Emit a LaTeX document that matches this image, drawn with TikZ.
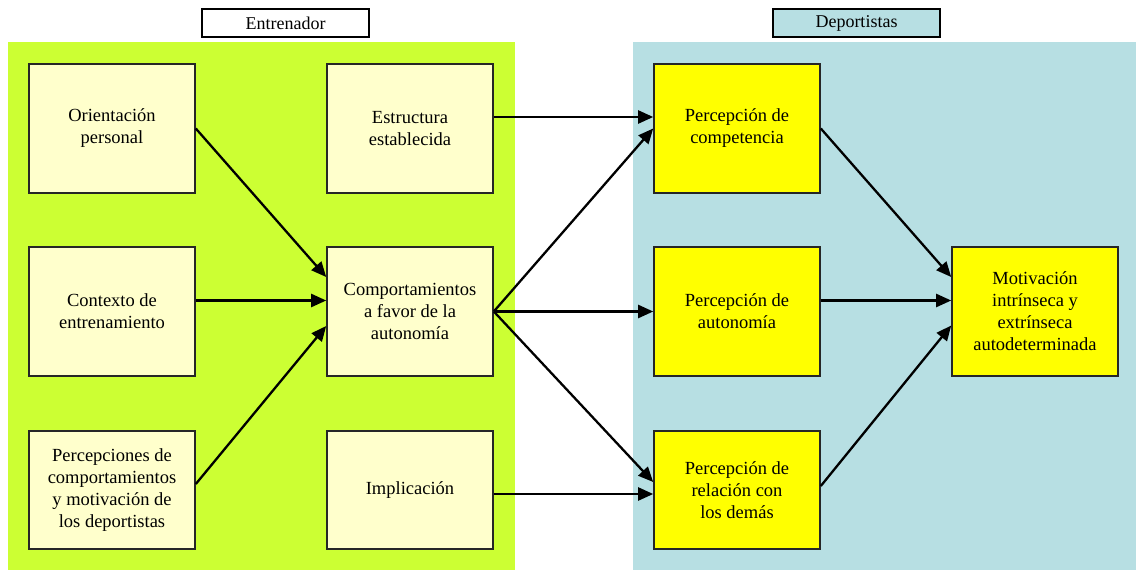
\documentclass[tikz,border=0pt]{standalone}
\usepackage{fontspec}
\setmainfont{Liberation Serif}
\usetikzlibrary{arrows.meta,calc}
\definecolor{coachgreen}{HTML}{CCFF33}
\definecolor{athleteblue}{HTML}{B7DFE3}
\definecolor{paleyellow}{HTML}{FFFFCC}
\definecolor{brightyellow}{HTML}{FFFF00}
\tikzset{
  box/.style={draw=black!85, line width=1.6pt, minimum width=166pt, align=center,
    font=\fontsize{18.5}{22}\selectfont, inner sep=0pt},
  tall/.style={box, minimum height=129pt},
  short/.style={box, minimum height=118pt},
  coach/.style={fill=paleyellow},
  athlete/.style={fill=brightyellow},
  titlebox/.style={draw=black, line width=1.6pt, minimum width=167pt, minimum height=28pt,
    inner sep=0pt, font=\fontsize{18}{20}\selectfont},
  link/.style={line width=2.3pt, -{Triangle[length=15pt,width=13pt]}},
}
\begin{document}
\begin{tikzpicture}[x=1pt,y=-1pt]
\useasboundingbox (0,0) rectangle (1136,570);
\fill[white] (0,0) rectangle (1136,570);
% panels
\fill[coachgreen] (8,42) rectangle (515,570);
\fill[athleteblue] (633,42) rectangle (1136,570);
% panel titles
\node[titlebox, fill=white] (tcoach) at (285.5,23) {Entrenador};
\node[titlebox, fill=athleteblue] (tathl) at (856.5,23) {Deportistas};
% coach column 1
\node[tall, coach] (orient) at (112,128.5) {Orientación\\personal};
\node[tall, coach] (contexto) at (112,311.5) {Contexto de\\entrenamiento};
\node[short, coach] (percep) at (112,490) {Percepciones de\\comportamientos\\y motivación de\\los deportistas};
% coach column 2
\node[tall, coach] (estruct) at (410,128.5) {Estructura\\establecida};
\node[tall, coach] (comport) at (410,311.5) {Comportamientos\\a favor de la\\autonomía};
\node[short, coach] (implic) at (410,490) {Implicación};
% athlete column 1
\node[tall, athlete] (compet) at (737,128.5) {Percepción de\\competencia};
\node[tall, athlete] (auton) at (737,311.5) {Percepción de\\autonomía};
\node[short, athlete] (relac) at (737,490) {Percepción de\\relación con\\los demás};
% outcome
\node[tall, athlete] (motiv) at (1035,311.5) {Motivación\\intrínseca y\\extrínseca\\autodeterminada};
% links into the autonomy-supportive behaviours
\draw[link] (orient.east) -- ($(comport.west)+(0,-34.5)$);
\draw[link] ($(contexto.east)+(0,-11)$) -- ($(comport.west)+(0,-11)$);
\draw[link] ($(percep.east)+(0,-6)$) -- ($(comport.west)+(0,14.5)$);
% links towards the athletes' perceptions
\draw[link] ($(estruct.east)+(0,-11.5)$) -- ($(compet.west)+(0,-11.5)$);
\draw[link] (comport.east) -- (compet.west);
\draw[link] (comport.east) -- (auton.west);
\draw[link] (comport.east) -- ($(relac.west)+(0,-8)$);
\draw[link] ($(implic.east)+(0,4)$) -- ($(relac.west)+(0,4)$);
% links into motivation
\draw[link] (compet.east) -- ($(motiv.west)+(0,-34.5)$);
\draw[link] ($(auton.east)+(0,-11)$) -- ($(motiv.west)+(0,-11)$);
\draw[link] ($(relac.east)+(0,-4)$) -- ($(motiv.west)+(0,14)$);
\end{tikzpicture}
\end{document}
